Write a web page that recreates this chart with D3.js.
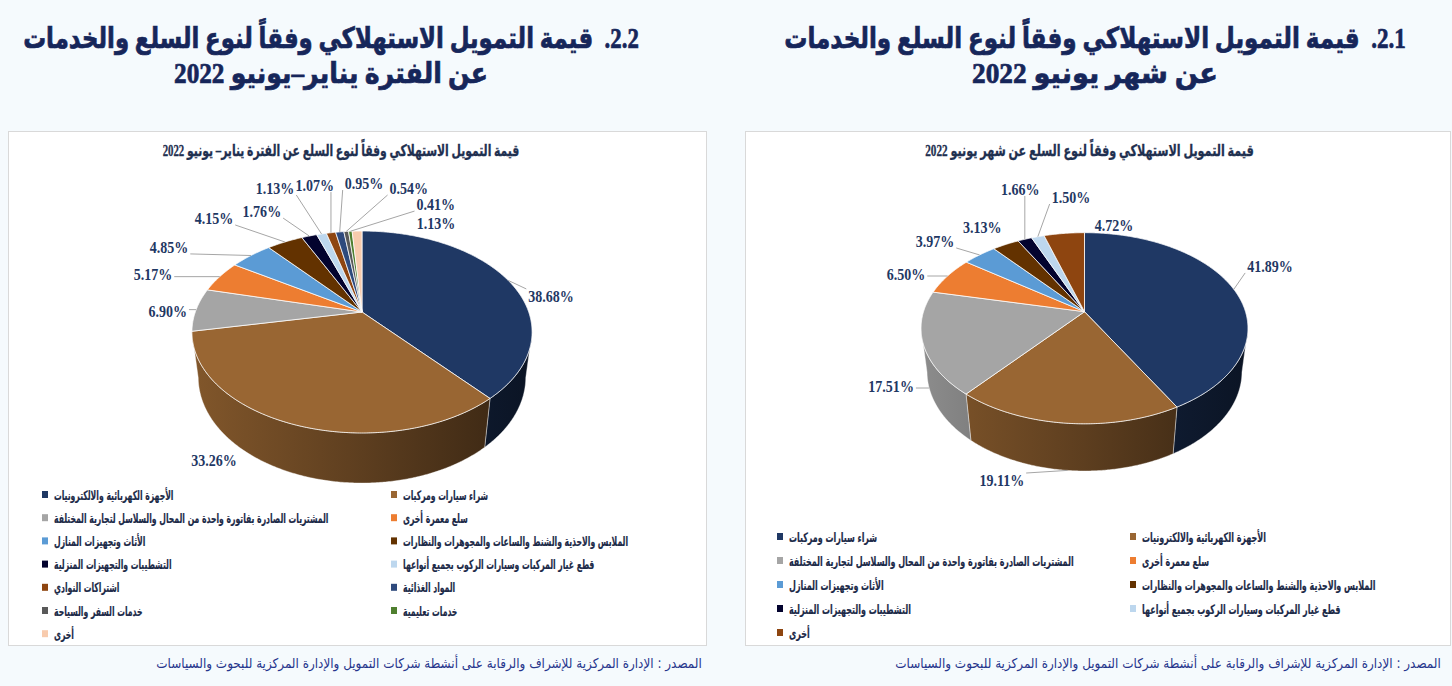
<!DOCTYPE html>
<html lang="ar">
<head>
<meta charset="utf-8">
<script src="https://d3js.org/d3.v7.min.js"></script>
<style>
  html, body { margin: 0; padding: 0; background: #F5FAFD; }
  svg { display: block; }
</style>
</head>
<body>
<svg id="page" width="1452" height="686"></svg>
<script>
// ---- data ----
const juneCategories = [
  "شراء سيارات ومركبات",
  "الأجهزة الكهربائية والالكترونيات",
  "المشتريات الصادرة بفاتورة واحدة من المحال والسلاسل لتجارية المختلفة",
  "سلع معمرة أخرى",
  "الأثاث وتجهيزات المنازل",
  "الملابس والاحذية والشنط والساعات والمجوهرات والنظارات",
  "التشطيبات والتجهيزات المنزلية",
  "قطع غيار المركبات وسيارات الركوب بجميع أنواعها",
  "أخرى"
];
const juneShares = [41.89, 19.11, 17.51, 6.50, 3.97, 3.13, 1.66, 1.50, 4.72];

const janCategories = [
  "الأجهزة الكهربائية والالكترونيات",
  "شراء سيارات ومركبات",
  "المشتريات الصادرة بفاتورة واحدة من المحال والسلاسل لتجارية المختلفة",
  "سلع معمرة أخرى",
  "الأثاث وتجهيزات المنازل",
  "الملابس والاحذية والشنط والساعات والمجوهرات والنظارات",
  "التشطيبات والتجهيزات المنزلية",
  "قطع غيار المركبات وسيارات الركوب بجميع أنواعها",
  "اشتراكات النوادي",
  "المواد الغذائية",
  "خدمات السفر والسياحة",
  "خدمات تعليمية",
  "أخرى"
];
const janShares = [38.68, 33.26, 6.90, 5.17, 4.85, 4.15, 1.76, 1.13, 1.07, 0.95, 0.54, 0.41, 1.13];

const juneHeading = ["2.1.\u00A0\u00A0قيمة التمويل الاستهلاكي وفقاً لنوع السلع والخدمات", "عن شهر يونيو 2022"];
const janHeading = ["2.2.\u00A0\u00A0قيمة التمويل الاستهلاكي وفقاً لنوع السلع والخدمات", "عن الفترة يناير–يونيو 2022"];
const juneTitle = "قيمة التمويل الاستهلاكي وفقاً لنوع السلع عن شهر يونيو 2022";
const janTitle = "قيمة التمويل الاستهلاكي وفقاً لنوع السلع عن الفترة يناير– يونيو 2022";
const sourceText = "المصدر : الإدارة المركزية للإشراف والرقابة على أنشطة شركات التمويل والإدارة المركزية للبحوث والسياسات";

// slice colours follow point order, like the office palette
const PALETTE = ["#1F3864", "#996633", "#A5A5A5", "#ED7D31", "#5B9BD5", "#633200", "#03032E",
  "#BDD7EE", "#8E4510", "#2E4A7D", "#595959", "#4F7F2F", "#F8CBAD"];

// label spots in the pie's own plane: [angle deg clockwise from top, radius factor, leader?]
const juneLabelSpots = [[66.8, 1.37, 1], [195.8, 1.436, 1], [236.3, 1.268, 1], [290.2, 1.271, 1],
  [309.4, 1.385, 1], [325.2, 1.323, 0], [343.2, 1.794, 1], [356.1, 1.578, 1], [11.1, 1.137, 0]];
const janLabelSpots = [[81.7, 1.185, 1], [210.2, 1.356, 0], [270.5, 1.168, 1], [287.4, 1.425, 1],
  [300.1, 1.543, 1], [317.5, 1.627, 1], [330.0, 1.513, 1], [337.8, 1.848, 1], [347.8, 1.807, 1],
  [0.5, 1.805, 1], [12.4, 1.752, 1], [21.7, 1.536, 1], [25.8, 1.247, 0]];

const NAVY = "#1F3864";
const svg = d3.select("#page");
const defs = svg.append("defs");

// perspective view of a tilted disk: phi angle, r radius factor, z depth (0 top, 1 bottom)
function makeProjection(p) {
  return (phi, r, z) => {
    const x = r * Math.sin(phi), y = -r * Math.cos(phi);
    const w = 1 - p.k * y + p.m * z;
    return [p.cx + (p.a * x) / w, p.cy + (p.b * y + p.c * z) / w];
  };
}

function rim(proj, s, e, z) {
  const n = Math.max(2, Math.ceil((e - s) / (Math.PI / 360)));
  return d3.range(n + 1).map((i) => proj(s + ((e - s) * i) / n, 1, z));
}

function drawPie(g, shares, geom, spots, id) {
  const proj = makeProjection(geom);
  const arcs = d3.pie().sort(null).value((d) => d)(shares);
  const phiR = Math.acos(-geom.k), phiL = 2 * Math.PI - phiR;
  const line = d3.line();

  // shaded outer wall, lighter on the left
  arcs.forEach((d, i) => {
    const base = d3.color(PALETTE[i]);
    const grad = defs.append("linearGradient")
      .attr("id", `${id}-side-${i}`)
      .attr("gradientUnits", "userSpaceOnUse")
      .attr("x1", geom.cx - geom.a * 1.03).attr("x2", geom.cx + geom.a * 1.03)
      .attr("y1", 0).attr("y2", 0);
    grad.append("stop").attr("offset", 0).attr("stop-color", base.darker(0.45));
    grad.append("stop").attr("offset", 0.5).attr("stop-color", base.darker(1.4));
    grad.append("stop").attr("offset", 1).attr("stop-color", base.darker(2.9));
  });

  g.selectAll("path.side")
    .data(arcs.filter((d) => d.endAngle > phiR && d.startAngle < phiL))
    .enter()
    .append("path")
    .attr("class", "side")
    .attr("d", (d) => {
      const s = Math.max(d.startAngle, phiR), e = Math.min(d.endAngle, phiL);
      const pts = rim(proj, s, e, 0).concat(rim(proj, s, e, 1).reverse());
      return line(pts) + "Z";
    })
    .attr("fill", (d) => `url(#${id}-side-${d.index})`)
    .attr("stroke", "rgba(255,255,255,0.55)")
    .attr("stroke-width", 0.7);

  g.selectAll("path.top")
    .data(arcs)
    .enter()
    .append("path")
    .attr("class", "top")
    .attr("d", (d) => line([proj(0, 0, 0)].concat(rim(proj, d.startAngle, d.endAngle, 0))) + "Z")
    .attr("fill", (d) => PALETTE[d.index])
    .attr("stroke", "rgba(255,255,255,0.85)")
    .attr("stroke-width", 0.9);

  // data labels with leader lines
  const leaders = g.append("g");
  const fmt = d3.format(".2f");
  arcs.forEach((d, i) => {
    const [ang, rad, lead] = spots[i];
    const [lx, ly] = proj((ang * Math.PI) / 180, rad, 0);
    const t = g.append("text")
      .attr("transform", `translate(${lx},${ly}) scale(0.85,1)`)
      .attr("text-anchor", "middle")
      .attr("dy", "0.35em")
      .attr("font-family", "'Liberation Serif', 'Times New Roman', serif")
      .attr("font-weight", "bold")
      .attr("font-size", 16.5)
      .attr("fill", NAVY)
      .text(fmt(d.value) + "%");
    if (!lead) return;
    const bb = t.node().getBBox();
    const hw = (bb.width * 0.85) / 2 + 2, hh = 7;
    const mid = (d.startAngle + d.endAngle) / 2;
    const [ax, ay] = proj(mid, 1, -Math.cos(mid) > 0.2 ? 1 : 0);
    const px = Math.max(lx - hw, Math.min(lx + hw, ax));
    const py = Math.max(ly - hh, Math.min(ly + hh, ay));
    leaders.append("line")
      .attr("x1", ax).attr("y1", ay).attr("x2", px).attr("y2", py)
      .attr("stroke", "#A6A6A6").attr("stroke-width", 1);
  });
}

// squeeze a text horizontally to a target width, anchored at (x, y)
function squeeze(sel, x, y, width, anchor) {
  const natural = sel.node().getComputedTextLength();
  const sx = Math.min(1, width / natural);
  sel.attr("text-anchor", anchor).attr("transform", `translate(${x},${y}) scale(${sx},1)`);
  return sel;
}

function drawLegend(g, cats, cfg) {
  const probe = g.append("text")
    .attr("font-family", "'DejaVu Sans', sans-serif").attr("font-weight", "bold")
    .attr("font-size", 13).text(cats[2]);
  const sx = cfg.refWidth / probe.node().getComputedTextLength();
  probe.remove();

  const items = g.selectAll("g.item").data(cats).enter().append("g")
    .attr("class", "item")
    .attr("transform", (d, i) => `translate(${cfg.cols[i % 2]},${cfg.y0 + Math.floor(i / 2) * cfg.step})`);
  items.append("rect")
    .attr("x", 0).attr("y", -4).attr("width", 6).attr("height", 7)
    .attr("fill", (d, i) => PALETTE[i]);
  items.append("text")
    .attr("transform", `translate(12,4.5) scale(${sx},1)`)
    .attr("font-family", "'DejaVu Sans', sans-serif").attr("font-weight", "bold")
    .attr("font-size", 13).attr("fill", "#1C2A48")
    .attr("stroke", "#1C2A48").attr("stroke-width", 0.2)
    .text((d) => d);
}

function drawPanel(opt) {
  const g = svg.append("g");
  // heading above the box
  opt.heading.forEach((txt, i) => {
    const t = g.append("text")
      .style("direction", "rtl")
      .attr("font-family", "'Liberation Serif', 'DejaVu Sans', serif")
      .attr("font-weight", "bold").attr("font-size", 29)
      .attr("fill", "#16265A").attr("stroke", "#16265A").attr("stroke-width", 0.7)
      .text(txt);
    squeeze(t, opt.headX, 48 + i * 35, opt.headWidths[i], "middle");
  });
  g.append("rect")
    .attr("x", opt.box[0] + 0.5).attr("y", 131.5)
    .attr("width", opt.box[1] - opt.box[0]).attr("height", 514)
    .attr("fill", "#FFFFFF").attr("stroke", "#D9D9D9");
  const title = g.append("text")
    .style("direction", "rtl")
    .attr("font-family", "'Liberation Serif', 'DejaVu Sans', serif")
    .attr("font-weight", "bold").attr("font-size", 16)
    .attr("fill", "#1F3050").attr("stroke", "#1F3050").attr("stroke-width", 0.3)
    .text(opt.title);
  squeeze(title, opt.titleX, 156, opt.titleWidth, "middle");
  drawPie(g.append("g"), opt.shares, opt.geom, opt.spots, opt.id);
  drawLegend(g.append("g"), opt.cats, opt.legend);
  const src = g.append("text")
    .style("direction", "rtl")
    .attr("font-family", "'DejaVu Sans', sans-serif").attr("font-size", 13.5)
    .attr("fill", "#26358C").text(sourceText);
  squeeze(src, opt.sourceX, 668, 546, "middle");
}

drawPanel({
  id: "june", heading: juneHeading, headX: 1095, headWidths: [622, 246],
  box: [745, 1450], title: juneTitle, titleX: 1089.5, titleWidth: 329,
  shares: juneShares, cats: juneCategories, spots: juneLabelSpots,
  geom: { cx: 1084.5, cy: 311.7, a: 161, b: 92.7, k: 0.173, m: 0.037, c: 44.9 },
  legend: { cols: [777, 1130], y0: 537, step: 24, refWidth: 285 },
  sourceX: 1168
});

drawPanel({
  id: "jan", heading: janHeading, headX: 331, headWidths: [616, 314],
  box: [8, 706], title: janTitle, titleX: 341, titleWidth: 357,
  shares: janShares, cats: janCategories, spots: janLabelSpots,
  geom: { cx: 362, cy: 312, a: 166.7, b: 97, k: 0.198, m: 0.037, c: 46.5 },
  legend: { cols: [42, 391], y0: 495, step: 23.2, refWidth: 275 },
  sourceX: 429
});
</script>
</body>
</html>
